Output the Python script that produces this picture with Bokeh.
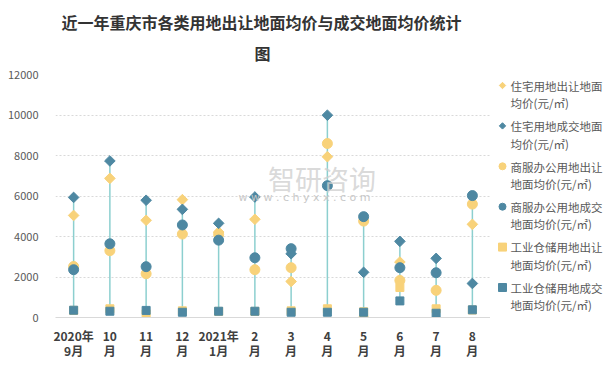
import numpy as np
from bokeh.plotting import figure
from bokeh.layouts import row
from bokeh.models import ColumnDataSource, Title, Range1d, Label
from bokeh.core.properties import value
from bokeh.embed import file_html
from bokeh.resources import INLINE

months = ["2020年\n9月", "10\n月", "11\n月", "12\n月", "2021年\n1月", "2\n月",
          "3\n月", "4\n月", "5\n月", "6\n月", "7\n月", "8\n月"]
res_sell = [5040, 6870, 4800, 5820, 4220, 4850, 1780, 7940, 0, 2740, np.nan, 4600]
res_deal = [5930, 7730, 5790, 5340, 4650, 5950, 3150, 9990, 2230, 3760, 2920, 1680]
com_sell = [2520, 3300, 2160, 4120, 4100, 2360, 2460, 8590, 4760, 1830, 1340, 5600]
com_deal = [2360, 3640, 2510, 4570, 3820, 2950, 3400, 6510, 4980, 2460, 2210, 6020]
ind_sell = [350, 430, 180, 330, 300, 300, 330, 430, 280, 1480, 430, 370]
ind_deal = [360, 310, 350, 260, 310, 310, 260, 260, 260, 820, 210, 380]

labels = ["住宅用地出让地面\n均价(元/㎡)", "住宅用地成交地面\n均价(元/㎡)",
          "商服办公用地出让\n地面均价(元/㎡)", "商服办公用地成交\n地面均价(元/㎡)",
          "工业仓储用地出让\n地面均价(元/㎡)", "工业仓储用地成交\n地面均价(元/㎡)"]

YELLOW = "#f8d27a"
DARK = "#4e88a2"
LINE = "#8ccfcf"
FONT = "Noto Sans CJK SC"
H = 362
TOP, BOT = 74, 317   # frame edges (px)

allv = np.array([res_sell, res_deal, com_sell, com_deal, ind_sell, ind_deal], dtype=float)
src = ColumnDataSource(dict(m=months, rs=res_sell, rd=res_deal, cs=com_sell, cd=com_deal,
                            is_=ind_sell, id_=ind_deal,
                            lo=np.nanmin(allv, axis=0), hi=np.nanmax(allv, axis=0)))

p = figure(x_range=months, y_range=Range1d(0, 12000), width=490, height=H,
           output_backend="svg", toolbar_location=None,
           min_border_left=55, min_border_right=0, min_border_bottom=H - BOT, min_border_top=TOP)
p.outline_line_color = None
p.background_fill_color = "white"

p.add_layout(Title(text="图", align="left", text_font=FONT, text_font_size="16px",
                   text_font_style="bold", text_color="#333333", offset=199, standoff=19,
                   text_line_height=0.65), "above")
p.add_layout(Title(text="近一年重庆市各类用地出让地面均价与成交地面均价统计", align="left",
                   text_font=FONT, text_font_size="16px", text_font_style="bold",
                   text_color="#333333", offset=6, standoff=-9), "above")
# top spacer
p.add_layout(Title(text=" ", text_font_size="1px", standoff=7), "above")

# watermark
p.add_layout(Label(x=5.86, y=6880, text="智研咨询", text_font=FONT,
                   text_font_size="27px", text_color="#d0d0d0", text_baseline="middle",
                   text_alpha=0.8))
p.add_layout(Label(x=5.05, y=5940, text="w w w . c h y x x . c o m", text_font="DejaVu Sans",
                   text_font_size="11px", text_color="#c8c8c8", text_baseline="middle"))

p.segment(x0="m", y0="lo", x1="m", y1="hi", source=src, line_color=LINE, line_width=1.5)

p.scatter("m", "rs", source=src, marker="square", angle=np.pi / 4, size=7.5,
          fill_color=YELLOW, line_color=YELLOW)
p.scatter("m", "rd", source=src, marker="square", angle=np.pi / 4, size=7.5,
          fill_color=DARK, line_color=DARK)
p.scatter("m", "cs", source=src, marker="circle", size=10, fill_color=YELLOW, line_color=YELLOW)
p.scatter("m", "cd", source=src, marker="circle", size=10, fill_color=DARK, line_color=DARK)
p.scatter("m", "is_", source=src, marker="square", size=8, fill_color=YELLOW, line_color=YELLOW)
p.scatter("m", "id_", source=src, marker="square", size=8, fill_color=DARK, line_color=DARK)

p.xgrid.grid_line_color = None
p.ygrid.grid_line_color = "#d9d9d9"
p.ygrid.grid_line_dash = "2 2"

p.yaxis.ticker = [0, 2000, 4000, 6000, 8000, 10000, 12000]
p.yaxis.axis_line_color = None
p.yaxis.major_tick_line_color = None
p.yaxis.minor_tick_line_color = None
p.yaxis.major_label_text_font = FONT
p.yaxis.major_label_text_font_size = "11px"
p.yaxis.major_label_text_color = "#595959"
p.yaxis.major_label_standoff = 11

p.xaxis.axis_line_color = "#d9d9d9"
p.xaxis.major_tick_line_color = None
p.xaxis.minor_tick_line_color = None
p.xaxis.major_label_text_font = FONT
p.xaxis.major_label_text_font_size = "12px"
p.xaxis.major_label_text_font_style = "bold"
p.xaxis.major_label_text_color = "#404040"
p.xaxis.major_label_text_line_height = 0.92
p.xaxis.major_label_standoff = 3
p.xaxis.major_label_orientation = "horizontal"

# legend panel (frame aligned with the main frame; ranges in pixels)
lg = figure(width=115, height=H, x_range=Range1d(490, 605), y_range=Range1d(BOT, TOP),
            output_backend="svg", toolbar_location=None, min_border=0,
            min_border_top=TOP, min_border_bottom=H - BOT)
lg.axis.visible = False
lg.grid.grid_line_color = None
lg.outline_line_color = None

n = len(labels)
ly = [85 + 40.4 * i for i in range(n)]
lcol = [YELLOW, DARK, YELLOW, DARK, YELLOW, DARK]
lmark = ["square", "square", "circle", "circle", "square", "square"]
lang = [np.pi / 4, np.pi / 4, 0, 0, 0, 0]
lsize = [4.5, 4.5, 7, 7, 8, 8]
lsrc = ColumnDataSource(dict(x=[502] * n, y=ly, c=lcol, m=lmark, a=lang, s=lsize,
                             tx=[510] * n, ty=[v + 9 for v in ly], t=labels))
lg.scatter("x", "y", source=lsrc, marker="m", angle="a", size="s", fill_color="c", line_color="c")
lg.text("tx", "ty", text="t", source=lsrc, text_font=value(FONT), text_font_size="11.5px",
        text_color="#595959", text_baseline="middle", text_line_height=1.08)

layout = row(p, lg)
open("out.html", "w").write(file_html(layout, INLINE))
